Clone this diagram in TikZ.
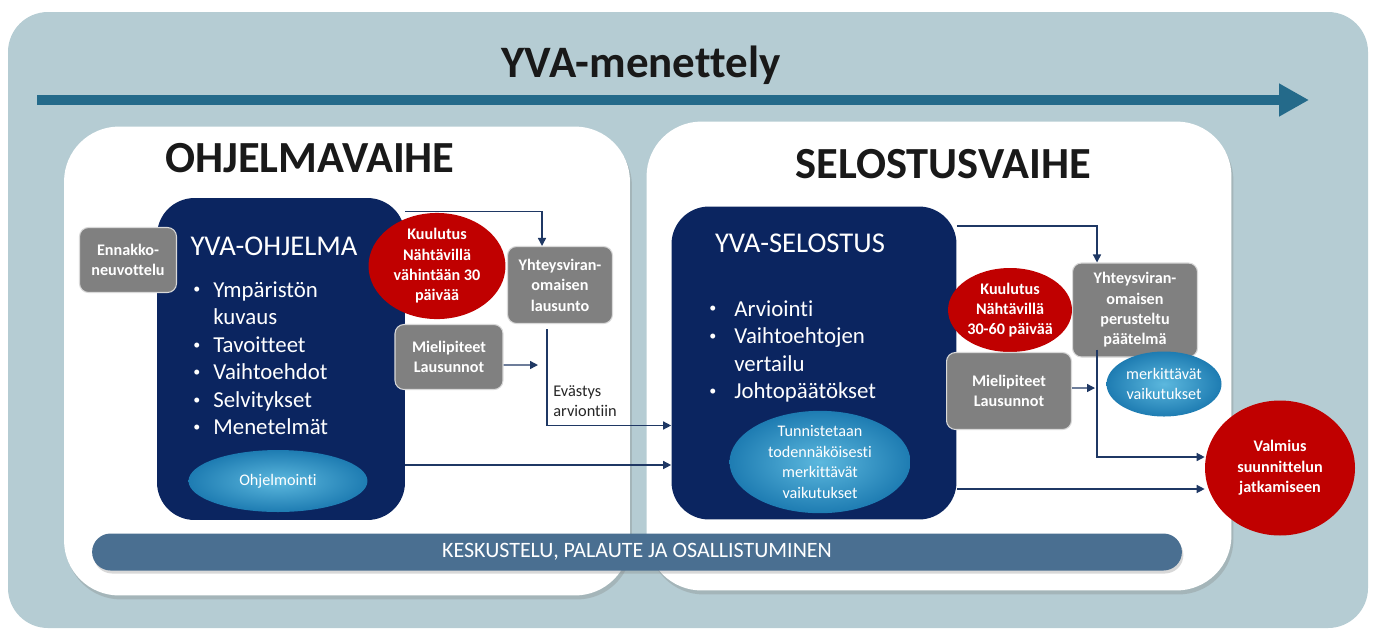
\documentclass[tikz,border=0pt]{standalone}
\usepackage{fontspec}
\setmainfont{Carlito}[Ligatures={TeX,NoCommon}]
\usetikzlibrary{arrows.meta,shapes.geometric,shadows,positioning}

\definecolor{panelbg}{RGB}{181,204,211}
\definecolor{timeline}{RGB}{36,106,138}
\definecolor{navy}{RGB}{11,37,96}
\definecolor{boxgrey}{RGB}{128,128,128}
\definecolor{redfill}{RGB}{192,0,0}
\definecolor{ovallight}{RGB}{92,184,222}
\definecolor{ovaldark}{RGB}{30,124,178}
\definecolor{barblue}{RGB}{74,111,145}
\definecolor{linknavy}{RGB}{31,56,100}

% bullet line and its continuation
\newcommand{\bdot}{\raisebox{0.14em}{\fontsize{8}{8}\selectfont\textbullet}}
\newcommand{\bitem}[2][0.4cm]{\makebox[#1][l]{\bdot}#2}
\newcommand{\bcont}[2][0.4cm]{\hspace*{#1}#2}

\tikzset{
  phase/.style={fill=white, rounded corners=1.1cm, inner sep=0pt,
    drop shadow={shadow xshift=0.04cm, shadow yshift=-0.08cm, opacity=0.3}},
  heading/.style={font=\bfseries\fontsize{25.3}{30}\selectfont, text=black!90, inner sep=0pt},
  navybox/.style={fill=navy, rounded corners=0.75cm, inner sep=0pt},
  boxtitle/.style={text=white, inner sep=0pt, font=\fontsize{16.3}{20}\selectfont},
  listtext/.style={text=white, align=left, inner sep=0pt, font=\fontsize{13}{15.7}\selectfont},
  greybox/.style={fill=boxgrey, draw=white!70!boxgrey, line width=0.6pt, rounded corners=0.18cm,
    text=white, align=center, inner sep=0pt, font=\bfseries\fontsize{9.2}{11.6}\selectfont},
  redoval/.style={ellipse, fill=redfill, text=white, align=center, inner sep=0pt,
    font=\bfseries\fontsize{9.2}{11.6}\selectfont},
  blueoval/.style={ellipse, inner color=ovallight, outer color=ovaldark, text=white,
    align=center, inner sep=0pt, font=\fontsize{9.2}{11.6}\selectfont},
  flow/.style={draw=linknavy, line width=0.8pt, -{Triangle[length=1.6mm,width=1.6mm]}},
  bar/.style={fill=barblue, rounded corners=0.37cm, text=white, inner sep=0pt,
    font=\fontsize{12.5}{15}\selectfont,
    drop shadow={shadow xshift=0.03cm, shadow yshift=-0.06cm, opacity=0.3}}
}

\begin{document}
\begin{tikzpicture}[x=0.02cm, y=-0.02cm]

    \useasboundingbox (0,0) rectangle (1378,630);

    % --- Background and time line ---
    \fill[panelbg, rounded corners=0.8cm] (8,12) rectangle (1368,628);
    \coordinate (linestart) at (37,100);
    \coordinate (lineend) at (1309,100);
    \draw[timeline, line width=5.7pt, -{Triangle[length=0.6cm,width=0.62cm]}] (linestart) -- (lineend);
    \node[font=\bfseries\fontsize{25.6}{30}\selectfont, text=black!90, anchor=base, inner sep=0pt] (title) at (641,77) {YVA-menettely};

    % --- Phases ---
    \node[phase, minimum width=11.32cm, minimum height=9.38cm] (ohjpanel) at (347,361) {};
    \node[phase, minimum width=11.7cm, minimum height=9.38cm] (selpanel) at (939,356) {};
    \node[heading, anchor=base] (ohjhead) at (310,172) {OHJELMAVAIHE};
    \node[heading, anchor=base] (selhead) at (943,178) {SELOSTUSVAIHE};

    % --- Ohjelmavaihe ---
    \node[navybox, minimum width=4.96cm, minimum height=6.44cm] (ohj) at (281,359) {};
    \node[boxtitle, anchor=base] (ohjtitle) at (274,255) {YVA-OHJELMA};
    \node[listtext, anchor=north west] (ohjlist) at (193,281)
        {\bitem{Ympäristön}\\\bcont{kuvaus}\\\bitem{Tavoitteet}\\\bitem{Vaihtoehdot}\\\bitem{Selvitykset}\\\bitem{Menetelmät}};
    \node[blueoval, minimum width=3.58cm, minimum height=1.24cm] (ohjelmointi) at (278,481) {Ohjelmointi};
    \node[greybox, minimum width=1.94cm, minimum height=1.3cm] (ennakko) at (128,260) {Ennakko-\\neuvottelu};
    \node[redoval, minimum width=2.74cm, minimum height=2.02cm] (kuul1) at (437,266) {Kuulutus\\Nähtävillä\\vähintään 30\\päivää};
    \node[greybox, minimum width=2.1cm, minimum height=1.54cm] (lausunto) at (560,285) {Yhteysviran-\\omaisen\\lausunto};
    \node[greybox, minimum width=2.16cm, minimum height=1.3cm] (mielip1) at (449,357) {Mielipiteet\\Lausunnot};
    \node[text=black!85, align=left, anchor=north west, inner sep=0pt, font=\fontsize{9.3}{11.6}\selectfont] (evastys) at (553,385) {Evästys\\arviontiin};

    % --- Selostusvaihe ---
    \node[navybox, minimum width=5.7cm, minimum height=6.26cm] (sel) at (814,363) {};
    \node[boxtitle, anchor=base] (seltitle) at (800,252) {YVA-SELOSTUS};
    \node[listtext, anchor=north west] (sellist) at (709,300)
        {\bitem[0.5cm]{Arviointi}\\\bitem[0.5cm]{Vaihtoehtojen}\\\bcont[0.5cm]{vertailu}\\\bitem[0.5cm]{Johtopäätökset}};
    \node[blueoval, minimum width=3.62cm, minimum height=1.66cm] (tunn) at (820,462) {Tunnistetaan\\todennäköisesti\\merkittävät\\vaikutukset};
    \node[redoval, minimum width=2.48cm, minimum height=1.68cm] (kuul2) at (1010,310) {Kuulutus\\Nähtävillä\\30-60 päivää};
    \node[greybox, minimum width=2.5cm, minimum height=1.88cm] (paatelma) at (1135,310) {Yhteysviran-\\omaisen\\perusteltu\\päätelmä};
    \node[greybox, minimum width=2.5cm, minimum height=1.54cm] (mielip2) at (1009,391) {Mielipiteet\\Lausunnot};
    \node[blueoval, minimum width=2.3cm, minimum height=1.3cm] (merk) at (1164,384) {merkittävät\\vaikutukset};
    \node[redoval, minimum width=3cm, minimum height=2.7cm] (valmius) at (1280,468) {Valmius\\suunnittelun\\jatkamiseen};

    % --- Connectors ---
    \coordinate (m1end) at (538,365);
    \coordinate (m2end) at (1095,388);
    \coordinate (ohjrow) at ([yshift=-2.12cm]ohj.east);
    \coordinate (selrow) at ([yshift=-2.52cm]sel.east);
    \draw[flow] ([yshift=-0.28cm]ohj.north east) -| ([xshift=-0.36cm]lausunto.north);
    \draw[flow] ([yshift=-0.16cm]mielip1.east) -- (m1end);
    \draw[flow] ([xshift=-0.26cm,yshift=-0.1cm]lausunto.south) |- ([yshift=-1.25cm]sel.west);
    \draw[flow] (ohjrow) -- (ohjrow -| sel.west);
    \draw[flow] ([yshift=-0.4cm]sel.north east) -| ([xshift=-0.76cm]paatelma.north);
    \draw[flow] ([yshift=0.06cm]mielip2.east) -- (m2end);
    \draw[flow] ([xshift=-0.76cm,yshift=0.16cm]paatelma.south) |- ([yshift=0.22cm]valmius.west);
    \draw[flow] (selrow) -- (selrow -| valmius.west);

    % --- Participation bar ---
    \node[bar, minimum width=21.8cm, minimum height=0.74cm] (kesk) at (637,552) {KESKUSTELU, PALAUTE JA OSALLISTUMINEN};

\end{tikzpicture}
\end{document}
